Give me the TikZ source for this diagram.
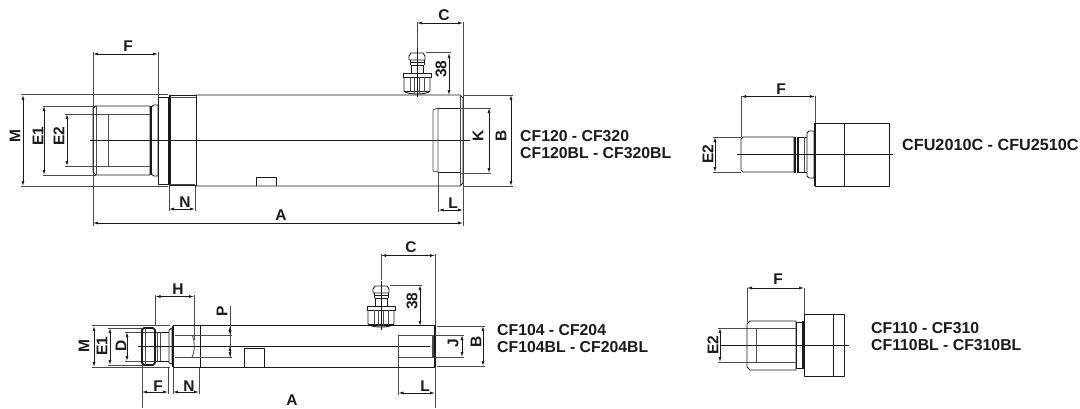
\documentclass[tikz,border=0pt]{standalone}
\usepackage{fontspec}
\setmainfont{Liberation Sans}
\usetikzlibrary{arrows.meta}
\definecolor{ink}{HTML}{1A1A1A}
\definecolor{ext}{HTML}{4A4A4A}
\tikzset{
  x=1pt,y=-1pt,
  obj/.style={draw=ink,line width=0.9pt,line join=round},
  thick obj/.style={draw=ink,line width=1.6pt},
  thin obj/.style={draw=ext,line width=0.8pt},
  extline/.style={draw=ext,line width=0.7pt},
  centerline/.style={draw=ink,line width=0.7pt},
  dimline/.style={draw=ink,line width=0.7pt,{Latex[length=5pt,width=3pt]}-{Latex[length=5pt,width=3pt]}},
  dimtext/.style={font=\bfseries\fontsize{15.5}{15.5}\selectfont,text=ink,inner sep=0pt},
  rot/.style={dimtext,rotate=90},
  caption/.style={font=\bfseries\fontsize{15.8}{17}\selectfont,text=ink,inner sep=0pt,align=left,anchor=west}
}
\newcommand{\fitting}[2]{%
  \begin{scope}[shift={(#1,#2)}]
    \draw[obj] (-8,4) -- (-8,8) -- (8,8) -- (8,4) -- (6,1) -- (-6,1) -- cycle;
    \draw[thick obj] (-7,10.5) -- (7,10.5);
    \draw[obj] (-7,8) -- (-7,13) (7,8) -- (7,13);
    \draw[obj] (-6,13) -- (6,13) (-6,13) -- (-6,21) (6,13) -- (6,21);
    \draw[obj] (-14,21.5) rectangle (14,25);
    \draw[obj] (-13,25) -- (-13,39) .. controls (-10,43) and (10,43) .. (13,39) -- (13,25);
    \draw[obj] (-13,39) -- (13,39);
    \draw[thin obj] (-7,25) -- (-7,40) (7,25) -- (7,40) (-2.5,25) -- (-2.5,41) (2.5,25) -- (2.5,41);
    \draw[centerline] (0,-4) -- (0,45);
  \end{scope}}
\begin{document}
\begin{tikzpicture}
\useasboundingbox (0,0) rectangle (1080,408);
% ===== top-left cylinder
\draw[extline] (21,94.5) -- (168,94.5) (21,186) -- (168,186);
\draw[extline] (43,106) -- (96,106) (43,175) -- (96,175);
\draw[extline] (65,114) -- (108,114) (65,166) -- (108,166);
\draw[extline] (93,52) -- (93,226);
\draw[extline] (158,52) -- (158,97);
\draw[extline] (169,186) -- (169,211) (195,186) -- (195,211);
\draw[extline] (438.5,172) -- (438.5,212);
\draw[extline] (463,22) -- (463,226);
\draw[extline] (417,22) -- (417,48);
\draw[obj] (93,108) -- (96,106) -- (150,106) -- (150,175) -- (96,175) -- (93,172) -- cycle;
\draw[thin obj] (108,114) -- (108,166) (108,114) -- (150,114) (108,166) -- (150,166) (96,106) -- (96,175);
\draw[thick obj] (151,106) -- (151,175);
\draw[obj] (151,107) -- (154,105) -- (158,105) -- (158,176) -- (154,176) -- (151,174);
\draw[obj] (158,97) rectangle (168,184);
\draw[thick obj] (169.5,95) -- (169.5,186);
\draw[obj] (170,95) rectangle (196,185.5);
\draw[thin obj] (170,97) -- (196,97) (170,184) -- (195,184);
\draw[obj] (196,95) -- (460,95) -- (463,98) -- (463,183) -- (460,186) -- (196,186);
\draw[thin obj] (460,95) -- (460,186);
\draw[obj] (256,186) -- (256,177) -- (276,177) -- (276,186);
\draw[centerline] (90,140.5) -- (470,140.5);
\draw[obj] (438,108) -- (460,108) (438,172) -- (460,172);
\draw[thin obj] (438,108) -- (433,110) -- (433,171) -- (438,172) -- cycle;
\draw[extline] (460,108) -- (491,108) (460,173) -- (491,173);
\draw[extline] (463,95) -- (513,95) (463,186) -- (513,186);
\fitting{417}{52}
\draw[extline] (426,52.5) -- (451,52.5);
\draw[dimline] (93,54) -- (158,54);
\draw[dimline] (23,95) -- (23,186);
\draw[dimline] (44,106) -- (44,175);
\draw[dimline] (67,114) -- (67,166);
\draw[dimline] (169,209) -- (195,209);
\draw[dimline] (93,223) -- (463,223);
\draw[dimline] (438.5,210) -- (463,210);
\draw[dimline] (417,23) -- (463,23);
\draw[dimline] (449,53) -- (449,95);
\draw[dimline] (489,108) -- (489,173);
\draw[dimline] (511,95) -- (511,186);
\node[dimtext] (tF) at (128,46) {F};
\node[rot] (tM) at (15,136) {M};
\node[rot] (tE1) at (38,136) {E1};
\node[rot] (tE2) at (59,136) {E2};
\node[dimtext] (tN) at (185,202) {N};
\node[dimtext] (tA) at (281,215.5) {A};
\node[dimtext] (tL) at (453,203) {L};
\node[dimtext] (tC) at (444,15) {C};
\node[rot] (t38) at (441,69) {38};
\node[rot] (tK) at (478,136) {K};
\node[rot] (tB) at (501,136) {B};
\node[caption] (tcap) at (520,145) {CF120 - CF320\\CF120BL - CF320BL};
% ===== bottom-left cylinder
\draw[extline] (92,325.5) -- (170,325.5) (92,367) -- (170,367);
\draw[extline] (108,328) -- (145,328) (108,365) -- (145,365);
\draw[extline] (125,332) -- (156,332) (125,361) -- (156,361);
\draw[extline] (142,362) -- (142,408);
\draw[extline] (155.5,295) -- (155.5,326);
\draw[extline] (194,295) -- (194,340);
\draw[extline] (168,367) -- (168,394) (173,367) -- (173,394) (199,367) -- (199,394);
\draw[extline] (398.5,357) -- (398.5,395);
\draw[extline] (435,254) -- (435,408);
\draw[extline] (381,254) -- (381,280);
\draw[thick obj] (142,330) -- (144,328) -- (153,328) -- (155,330) -- (155,363) -- (153,365) -- (144,365) -- (142,363) -- cycle;
\draw[thin obj] (145,328) -- (145,365);
\draw[obj] (155,332) -- (169,332) (155,361) -- (169,361);
\draw[thin obj] (157,332) -- (157,361) (160,332) -- (160,361);
\draw[obj] (169,330) -- (172,328) -- (172,364) -- (169,363) -- cycle;
\draw[thick obj] (173,326) -- (173,367);
\draw[obj] (173.5,325.5) rectangle (200,367);
\draw[obj] (200,325.5) -- (435,325.5) (200,367) -- (435,367);
\draw[thin obj] (175,335) -- (232,335) (175,357) -- (232,357);
\draw[thin obj] (192,335) .. controls (195,340) and (195,352) .. (192,357);
\draw[obj] (244,367) -- (244,348) -- (264,348) -- (264,367);
\draw[centerline] (138,346) -- (430,346);
\draw[thick obj] (435,325.5) -- (435,367);
\draw[thin obj] (398.5,335) rectangle (433,357);
\draw[thin obj] (432,335) -- (432,357);
\draw[extline] (435,335) -- (464,335) (435,357) -- (464,357);
\draw[extline] (437,326) -- (485,326) (437,366.5) -- (485,366.5);
\draw[extline] (230,306) -- (230,358);
\fitting{381}{285}
\draw[extline] (390,285) -- (422,285);
\draw[dimline] (155.5,296.5) -- (194,296.5);
\draw[dimline] (94,326) -- (94,367);
\draw[dimline] (110,328) -- (110,365);
\draw[dimline] (127,332) -- (127,361);
\draw[dimline] (142,392) -- (168,392);
\draw[dimline] (173,392) -- (199,392);
\draw[dimline] (230,326) -- (230,335);
\draw[dimline] (230,357) -- (230,346);
\draw[dimline] (381,255.5) -- (435,255.5);
\draw[dimline] (420,285) -- (420,326);
\draw[dimline] (398.5,393) -- (435,393);
\draw[dimline] (462,335) -- (462,357);
\draw[dimline] (483,326) -- (483,366);
\node[dimtext] (bH) at (178,289) {H};
\node[rot] (bM) at (84,346) {M};
\node[rot] (bE1) at (102,346) {E1};
\node[rot] (bD) at (121,346) {D};
\node[dimtext] (bF) at (158,386) {F};
\node[dimtext] (bN) at (189,386) {N};
\node[rot] (bP) at (222,311) {P};
\node[dimtext] (bC) at (411,247) {C};
\node[rot] (b38) at (412,301) {38};
\node[dimtext] (bL) at (425,386) {L};
\node[rot] (bJ) at (453,343) {J};
\node[rot] (bB) at (476,342) {B};
\node[dimtext] (bA) at (292,400.5) {A};
\node[caption] (bcap) at (497,339) {CF104 - CF204\\CF104BL - CF204BL};
% ===== top-right fitting
\draw[extline] (741,96) -- (741,137) (815,96) -- (815,123);
\draw[extline] (713,137) -- (741,137) (713,172) -- (741,172);
\draw[obj] (741,139) -- (743,137) -- (794,137) -- (794,172) -- (743,172) -- (741,170) -- cycle;
\draw[thick obj] (795,136.5) -- (795,172.5) (798,136.5) -- (798,172.5);
\draw[obj] (798,137) -- (807,137) (798,172) -- (807,172);
\draw[thin obj] (804,137) -- (804,172);
\draw[obj] (807,133) -- (809,131) -- (814,131) -- (814,178) -- (809,178) -- (807,176) -- cycle;
\draw[thick obj] (815,123) -- (815,186);
\draw[obj] (815.5,123) rectangle (889,186);
\draw[obj] (844.5,123) -- (844.5,186);
\draw[centerline] (737,154.5) -- (893,154.5);
\draw[dimline] (741,96.5) -- (815,96.5);
\draw[dimline] (715,137) -- (715,172);
\node[dimtext] (rF) at (781,89) {F};
\node[rot] (rE2) at (708,154) {E2};
\node[caption,font=\bfseries\fontsize{16.2}{17}\selectfont] (rcap) at (902,145) {CFU2010C - CFU2510C};
% ===== bottom-right fitting
\draw[extline] (747,288) -- (747,322) (804,288) -- (804,314);
\draw[extline] (718,328) -- (757,328) (718,362) -- (757,362);
\draw[obj] (747,324) -- (750,321) -- (796,321) -- (796,370) -- (750,370) -- (747,367) -- cycle;
\draw[thin obj] (756,328) -- (756,362) (756,328) -- (796,328) (756,362) -- (796,362);
\draw[obj] (796,322) rectangle (802,368);
\draw[thick obj] (803,321) -- (803,369);
\draw[obj] (804,314) rectangle (844,376);
\draw[obj] (833,314) -- (833,376);
\draw[centerline] (720,345) -- (849,345);
\draw[dimline] (747,288) -- (804,288);
\draw[dimline] (720,328) -- (720,362);
\node[dimtext] (sF) at (778,279) {F};
\node[rot] (sE2) at (713,345) {E2};
\node[caption] (bcap2) at (871,337) {CF110 - CF310\\CF110BL - CF310BL};
\end{tikzpicture}
\end{document}
